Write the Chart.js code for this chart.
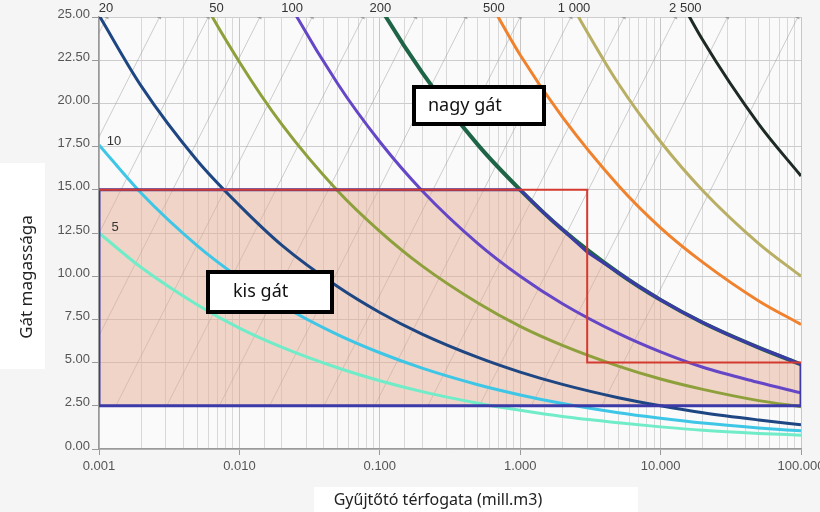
<!DOCTYPE html>
<html>
<head>
<meta charset="utf-8">
<script src="https://cdn.jsdelivr.net/npm/chart.js@4.4.1/dist/chart.umd.min.js"></script>
<style>
  html, body { margin: 0; padding: 0; background: #f5f5f5; }
  canvas { display: block; }
</style>
</head>
<body>
<canvas id="damChart" width="820" height="512"></canvas>
<script>
// volumes (mill. m3) where the curves were read
const volumes = [0.001, 0.002, 0.005, 0.01, 0.02, 0.05, 0.1, 0.2, 0.5, 1, 2, 5, 10, 20, 50, 100];

// dam height curves, labelled by H²·√V
const curveNames = ['5', '10', '20', '50', '100', '200', '500', '1 000', '2 500'];
const h5    = [12.5, 10.5, 8.35, 7.0, 5.9, 4.7, 3.95, 3.32, 2.65, 2.24, 1.88, 1.52, 1.28, 1.08, 0.9, 0.8];
const h10   = [17.6, 14.8, 11.77, 9.9, 8.32, 6.62, 5.57, 4.68, 3.72, 3.13, 2.63, 2.1, 1.78, 1.5, 1.22, 1.05];
const h20   = [25.1, 21.0, 16.7, 14.1, 11.8, 9.4, 7.9, 6.65, 5.3, 4.45, 3.74, 2.97, 2.5, 2.1, 1.68, 1.4];
const h50   = [null, 33.4, 26.6, 22.4, 18.8, 14.95, 12.6, 10.6, 8.45, 7.1, 6.0, 4.8, 4.05, 3.45, 2.8, 2.45];
const h100  = [null, null, null, 31.6, 26.6, 21.15, 17.78, 14.95, 11.89, 10.0, 8.41, 6.69, 5.62, 4.73, 3.85, 3.25];
const h200  = [null, null, null, null, null, 30.1, 25.6, 21.8, 17.6, 15.0, 12.7, 10.2, 8.63, 7.31, 5.87, 4.9];
const h500  = [null, null, null, null, null, null, null, null, 27.1, 22.8, 19.2, 15.25, 12.8, 10.8, 8.57, 7.21];
const h1000 = [null, null, null, null, null, null, null, null, null, null, 26.6, 21.15, 17.78, 14.95, 11.89, 10.0];
const h2500 = [null, null, null, null, null, null, null, null, null, null, null, null, 28.1, 23.65, 18.8, 15.8];
const curveHeights = [h5, h10, h20, h50, h100, h200, h500, h1000, h2500];
const curveColors = ['#70ecc8', '#3ec6e6', '#1d4683', '#8da03c', '#6446c6', '#1e6446', '#f0822e', '#b8ae64', '#1e2a24'];

// where the curve numbers sit
const labelV = [0.0013, 0.00128, 0.00112, 0.00687, 0.0237, 0.101, 0.65, 2.42, 15.0];
const labelH = [12.8, 17.8, 25.5, 25.5, 25.5, 25.5, 25.5, 25.5, 25.5];

// "kis gát" area: top edge, then along the 200 curve
const boundaryV = [0.001, 1, 1.5, 2, 3, 5, 7, 10, 15, 20, 30, 50, 70, 100];
const boundaryH = [15, 15, 13.6, 12.7, 11.4, 10.2, 9.4, 8.63, 7.83, 7.31, 6.63, 5.87, 5.41, 4.9];
const floorH = 2.5;

// red limit line
const redV = [0.001, 3, 3, 100];
const redH = [15, 15, 5, 5];

// thin grey guide lines (top end and bottom end)
const diagTopV    = [0.00114, 0.0027, 0.006, 0.014, 0.033, 0.076, 0.18, 0.41, 1.0, 2.3, 5.5, 12.8, 30, 95];
const diagBottomV = [0.0000456, 0.000108, 0.00024, 0.00056, 0.00132, 0.00304, 0.0072, 0.0164, 0.04, 0.092, 0.22, 0.512, 1.2, 3.8];

const toPoints = (xs, ys) => xs.map((x, i) => ({x: x, y: ys[i]}));
const isDecade = v => Math.abs(Math.log10(v) - Math.round(Math.log10(v))) < 1e-6;

const datasets = [];

datasets.push({
  data: toPoints(redV, redH),
  borderColor: '#d43a30', borderWidth: 2, pointRadius: 0, tension: 0, order: 0
});

const outline = [{x: boundaryV[0], y: floorH}]
  .concat(toPoints(boundaryV, boundaryH))
  .concat([{x: boundaryV[boundaryV.length - 1], y: floorH}, {x: boundaryV[0], y: floorH}]);
datasets.push({
  data: outline,
  borderColor: '#3b3aa6', borderWidth: 3, pointRadius: 0, tension: 0, order: 1
});

curveHeights.forEach((hs, i) => {
  datasets.push({
    data: toPoints(volumes, hs),
    borderColor: curveColors[i],
    borderWidth: i === 5 ? 4 : 3,
    pointRadius: 0,
    cubicInterpolationMode: 'monotone',
    order: 2
  });
});

datasets.push({
  data: toPoints(boundaryV, boundaryH),
  borderWidth: 0, pointRadius: 0, tension: 0,
  fill: {value: floorH},
  backgroundColor: 'rgba(230,174,148,0.5)',
  order: 10
});

diagTopV.forEach((v, i) => {
  datasets.push({
    data: [{x: diagBottomV[i], y: floorH}, {x: v, y: 25}],
    borderColor: 'rgba(140,140,140,0.42)', borderWidth: 1,
    pointRadius: [0, 3], pointStyle: 'triangle', pointRotation: -90,
    pointBackgroundColor: 'rgba(140,140,140,0.7)', pointBorderWidth: 0,
    order: 20
  });
});

const decor = {
  id: 'decor',
  beforeDraw(chart) {
    const {ctx, chartArea: a} = chart;
    ctx.save();
    ctx.fillStyle = '#f5f5f5';
    ctx.fillRect(0, 0, chart.width, chart.height);
    ctx.fillStyle = '#fafafa';
    ctx.fillRect(a.left, a.top, a.right - a.left, a.bottom - a.top);
    ctx.fillStyle = '#ffffff';
    ctx.fillRect(0, 163, 45, 206);
    ctx.fillRect(314, 487, 324, 25);
    ctx.restore();
  },
  afterDraw(chart) {
    const {ctx} = chart;
    const xs = chart.scales.x, ys = chart.scales.y;
    ctx.save();
    // curve numbers
    ctx.fillStyle = '#333';
    ctx.font = '13px "Liberation Sans", Arial, sans-serif';
    ctx.textAlign = 'center';
    ctx.textBaseline = 'middle';
    curveNames.forEach((n, i) => {
      ctx.fillText(n, xs.getPixelForValue(labelV[i]), ys.getPixelForValue(labelH[i]));
    });
    // text boxes
    const boxes = [
      {text: 'nagy gát', v: 0.1686, h: 21.06, w: 134, hh: 41, pad: 16},
      {text: 'kis gát', v: 0.00574, h: 10.36, w: 128, hh: 44, pad: 27}
    ];
    boxes.forEach(b => {
      const x = Math.round(xs.getPixelForValue(b.v));
      const y = Math.round(ys.getPixelForValue(b.h));
      ctx.fillStyle = '#ffffff';
      ctx.fillRect(x, y, b.w, b.hh);
      ctx.strokeStyle = '#000';
      ctx.lineWidth = 4;
      ctx.strokeRect(x + 2, y + 2, b.w - 4, b.hh - 4);
      ctx.fillStyle = '#111';
      ctx.font = '18px "Noto Sans", sans-serif';
      ctx.textAlign = 'left';
      ctx.textBaseline = 'middle';
      ctx.fillText(b.text, x + b.pad, y + b.hh / 2);
    });
    // axis titles
    ctx.fillStyle = '#222';
    ctx.font = '16px "Noto Sans", sans-serif';
    ctx.textAlign = 'center';
    ctx.textBaseline = 'middle';
    ctx.fillText('Gyűjtőtó térfogata (mill.m3)', 438, 500);
    ctx.translate(27, 277);
    ctx.rotate(-Math.PI / 2);
    ctx.font = '17px "Noto Sans", sans-serif';
    ctx.fillText('Gát magassága', 0, 0);
    ctx.restore();
  }
};

new Chart(document.getElementById('damChart').getContext('2d'), {
  type: 'line',
  data: {datasets: datasets},
  plugins: [decor],
  options: {
    responsive: false,
    animation: false,
    events: [],
    layout: {padding: {left: 0, right: 19, top: 17, bottom: 0}},
    plugins: {legend: {display: false}, tooltip: {enabled: false}},
    scales: {
      x: {
        type: 'logarithmic',
        min: 0.001,
        max: 100,
        afterFit: s => { s.height = 63; s.paddingLeft = 0; s.paddingRight = 0; },
        border: {color: '#9a9a9a', width: 1.5},
        grid: {
          color: c => (c.tick && isDecade(c.tick.value)) ? '#c6c6c6' : '#d8d8d8',
          tickColor: c => (c.tick && isDecade(c.tick.value)) ? '#999' : 'rgba(0,0,0,0)',
          tickLength: 6
        },
        ticks: {
          autoSkip: false,
          maxRotation: 0,
          padding: 4,
          color: '#555',
          font: {family: '"Liberation Sans", Arial, sans-serif', size: 13},
          callback: v => isDecade(v) ? Number(v).toFixed(3) : ''
        }
      },
      y: {
        min: 0,
        max: 25,
        afterFit: s => { s.width = 99; },
        border: {color: '#9a9a9a', width: 1.5},
        grid: {color: '#cdcdcd', tickColor: '#999', tickLength: 7},
        ticks: {
          stepSize: 2.5,
          padding: 2,
          labelOffset: -3,
          color: '#555',
          font: {family: '"Liberation Sans", Arial, sans-serif', size: 13},
          callback: v => Number(v).toFixed(2)
        }
      }
    }
  }
});
</script>
</body>
</html>
